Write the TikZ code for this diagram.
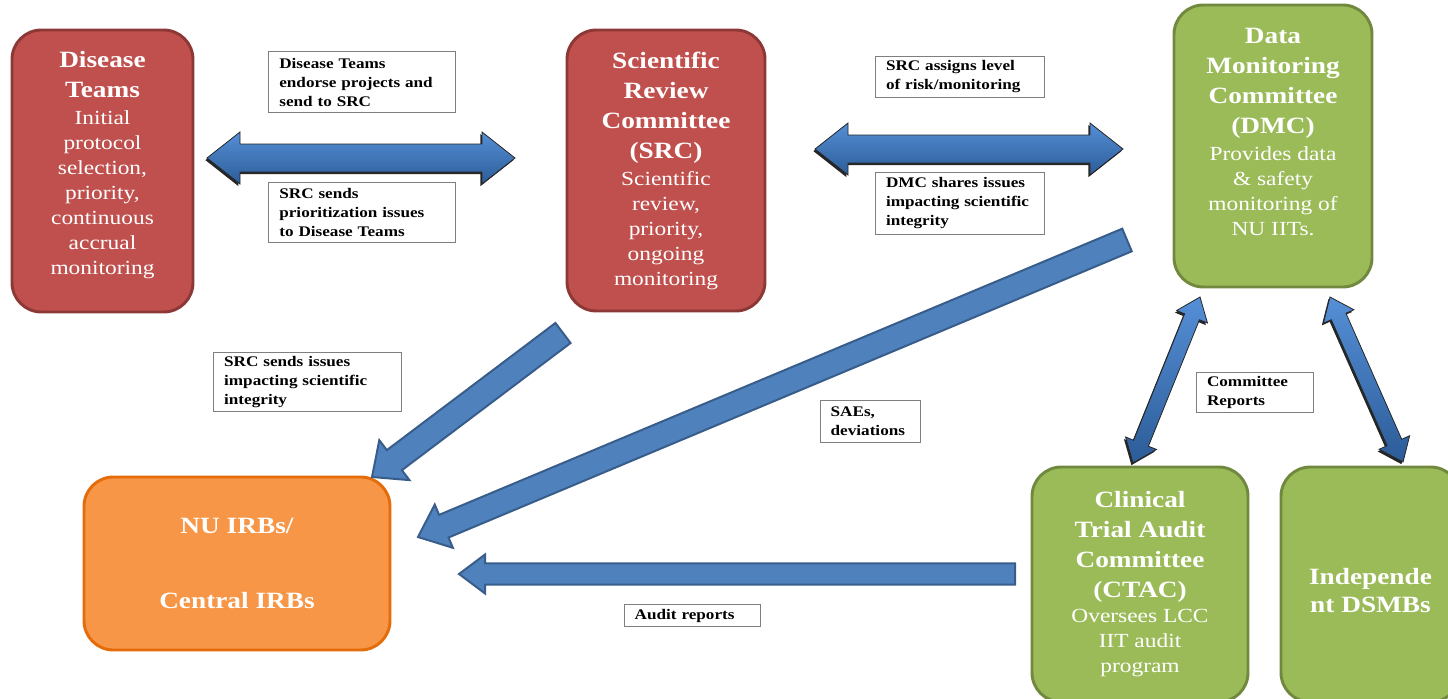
\documentclass[tikz,border=0pt]{standalone}
\usepackage{fontspec}
\setmainfont[FakeStretch=1.17]{Liberation Serif}
\usetikzlibrary{calc}
\usetikzlibrary{shadows}

\definecolor{teamred}{HTML}{C0504D}
\definecolor{teamredline}{HTML}{8C3836}
\definecolor{dmcgreen}{HTML}{9BBB59}
\definecolor{dmcgreenline}{HTML}{71893F}
\definecolor{irborange}{HTML}{F79646}
\definecolor{irborangeline}{HTML}{E46C0A}
\definecolor{flowblue}{HTML}{4F81BD}
\definecolor{flowblueline}{HTML}{385D8A}
\definecolor{flowbluetop}{HTML}{558FD6}
\definecolor{flowbluebottom}{HTML}{2C5C98}
\definecolor{notegray}{HTML}{7F7F7F}

\newcommand{\unittitle}[1]{{\bfseries\fontsize{17.5}{18.75}\selectfont #1}}

\begin{document}
\begin{tikzpicture}[
    x=0.75pt, y=-0.75pt,
    unit/.style={
        rectangle,
        rounded corners=22pt,
        line width=2.2pt,
        text=white,
        align=center,
        font=\fontsize{15}{18.75}\selectfont
    },
    redunit/.style={unit, fill=teamred, draw=teamredline},
    greenunit/.style={unit, fill=dmcgreen, draw=dmcgreenline},
    orangeunit/.style={unit, fill=irborange, draw=irborangeline},
    note/.style={
        rectangle,
        draw=notegray,
        fill=white,
        line width=0.6pt,
        align=left,
        inner xsep=8pt,
        inner ysep=3.5pt,
        text width=#1,
        font=\bfseries\fontsize{11}{14.25}\selectfont
    },
    flat/.style={fill=flowblue, draw=flowblueline, line width=1.5pt, line join=miter},
    glossy/.style={
        top color=flowbluetop,
        bottom color=flowbluebottom,
        draw=black!85,
        line width=0.6pt,
        line join=miter,
        drop shadow={shadow xshift=-1.2pt, shadow yshift=-1.6pt, fill=black, opacity=0.85}
    },
    fatarrow/.style n args={3}{
        to path={
            -- ($(\tikztostart)!#1!90:(\tikztotarget)$)
            -- ($(\tikztotarget)!#3!(\tikztostart)!#1!90:(\tikztotarget)$)
            -- ($(\tikztotarget)!#3!(\tikztostart)!#2!90:(\tikztotarget)$)
            -- (\tikztotarget)
            -- ($(\tikztotarget)!#3!(\tikztostart)!#2!-90:(\tikztotarget)$)
            -- ($(\tikztotarget)!#3!(\tikztostart)!#1!-90:(\tikztotarget)$)
            -- ($(\tikztostart)!#1!-90:(\tikztotarget)$)
            -- cycle
        }
    },
    fatdouble/.style n args={3}{
        to path={
            -- ($(\tikztostart)!#3!(\tikztotarget)!#2!90:(\tikztotarget)$)
            -- ($(\tikztostart)!#3!(\tikztotarget)!#1!90:(\tikztotarget)$)
            -- ($(\tikztotarget)!#3!(\tikztostart)!#1!90:(\tikztotarget)$)
            -- ($(\tikztotarget)!#3!(\tikztostart)!#2!90:(\tikztotarget)$)
            -- (\tikztotarget)
            -- ($(\tikztotarget)!#3!(\tikztostart)!#2!-90:(\tikztotarget)$)
            -- ($(\tikztotarget)!#3!(\tikztostart)!#1!-90:(\tikztotarget)$)
            -- ($(\tikztostart)!#3!(\tikztotarget)!#1!-90:(\tikztotarget)$)
            -- ($(\tikztostart)!#3!(\tikztotarget)!#2!-90:(\tikztotarget)$)
            -- cycle
        }
    }
]
\clip (0,0) rectangle (1448,699);

% committees
\node [redunit, minimum width=135.75pt, minimum height=211.5pt] (dt) at (102.5,171)
    {\unittitle{Disease}\\[3.75pt]\unittitle{Teams}\\[1.5pt]Initial\\protocol\\selection,\\priority,\\continuous\\accrual\\monitoring\\[-6.5pt]\mbox{}};
\node [redunit, minimum width=148.5pt, minimum height=210.75pt] (src) at (666,170.5)
    {\unittitle{Scientific}\\[3.75pt]\unittitle{Review}\\[3.75pt]\unittitle{Committee}\\[3.75pt]\unittitle{(SRC)}\\[1.5pt]Scientific\\review,\\priority,\\ongoing\\monitoring};
\node [greenunit, minimum width=148.5pt, minimum height=211.5pt] (dmc) at (1273,146)
    {\unittitle{Data}\\[3.75pt]\unittitle{Monitoring}\\[3.75pt]\unittitle{Committee}\\[3.75pt]\unittitle{(DMC)}\\[1.5pt]Provides data\\\& safety\\monitoring of\\NU IITs.\\[3pt]\mbox{}};
\node [orangeunit, minimum width=229.5pt, minimum height=129.75pt] (irb) at (237,563.5)
    {\unittitle{NU IRBs/}\\[37.5pt]\unittitle{Central IRBs}};
\node [greenunit, minimum width=162pt, minimum height=176.25pt] (ctac) at (1140,584.5)
    {\unittitle{Clinical}\\[3.75pt]\unittitle{Trial Audit}\\[3.75pt]\unittitle{Committee}\\[3.75pt]\unittitle{(CTAC)}\\[0pt]Oversees LCC\\IIT audit\\program};
\node [greenunit, minimum width=134.25pt, minimum height=176.25pt] (dsmb) at (1370.5,584.5)
    {\mbox{}\\[2.75pt]\unittitle{Independe}\\[2pt]\unittitle{nt DSMBs}};

% notes
\node [note=124pt, inner ysep=4.6pt] (n1) at (362,82) {Disease Teams\\endorse projects and\\send to SRC};
\node [note=124pt, inner ysep=4.6pt] (n2) at (362,212.5) {SRC sends\\prioritization issues\\to Disease Teams};
\node [note=111pt] (n3) at (960,77) {SRC assigns level\\of risk/monitoring};
\node [note=111pt, inner ysep=3.9pt] (n4) at (960,203.5) {DMC shares issues\\impacting scientific\\integrity};
\node [note=125pt, inner ysep=3.1pt] (n5) at (307.5,382) {SRC sends issues\\impacting scientific\\integrity};
\node [note=59pt, inner ysep=5pt] (n6) at (870,421) {SAEs,\\deviations};
\node [note=72pt, inner ysep=3.1pt] (n7) at (1255,392.5) {Committee\\Reports};
\node [note=86pt] (n8) at (692,615.5) {Audit reports};

% arrow ends
\coordinate (dtout) at (207,158);
\coordinate (srcin) at (515,158);
\coordinate (srcout) at (815,149);
\coordinate (dmcin) at (1123,149);
\coordinate (srcfoot) at (563,333);
\coordinate (irbtop) at (372,477);
\coordinate (dmcfoot) at (1127,240);
\coordinate (irbcorner) at (418,537);
\coordinate (ctacout) at (1015,574);
\coordinate (irbright) at (459,574);
\coordinate (dmcfoota) at (1200,297);
\coordinate (ctactop) at (1133,463);
\coordinate (dmcfootb) at (1330,297);
\coordinate (dsmbtop) at (1403,462);

% arrows
\draw [glossy, fatdouble={10.5pt}{19.5pt}{24.75pt}] (dtout) to (srcin);
\draw [glossy, fatdouble={10.5pt}{19.5pt}{24.75pt}] (srcout) to (dmcin);
\draw [flat, fatarrow={9.4pt}{18.75pt}{21pt}] (srcfoot) to (irbtop);
\draw [flat, fatarrow={9.2pt}{17.6pt}{21pt}] (dmcfoot) to (irbcorner);
\draw [flat, fatarrow={7.9pt}{14.6pt}{19.5pt}] (ctacout) to (irbright);
\draw [glossy, fatdouble={6pt}{12.5pt}{16pt}] (dmcfoota) to (ctactop);
\draw [glossy, fatdouble={6pt}{12.5pt}{16pt}] (dmcfootb) to (dsmbtop);
\end{tikzpicture}
\end{document}
